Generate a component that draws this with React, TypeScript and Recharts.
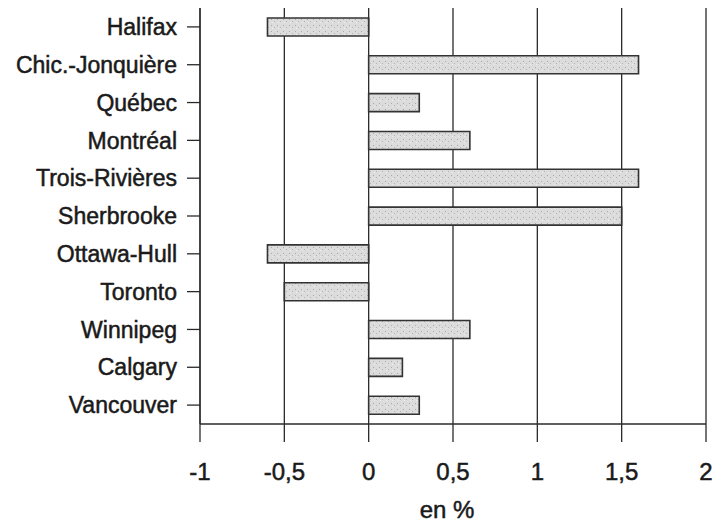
import { BarChart, Bar, XAxis, YAxis, CartesianGrid } from 'recharts';

const cities = [
  'Halifax',
  'Chic.-Jonquière',
  'Québec',
  'Montréal',
  'Trois-Rivières',
  'Sherbrooke',
  'Ottawa-Hull',
  'Toronto',
  'Winnipeg',
  'Calgary',
  'Vancouver',
];

const changes = [-0.6, 1.6, 0.3, 0.6, 1.6, 1.5, -0.6, -0.5, 0.6, 0.2, 0.3];

const xTicks = [-1, -0.5, 0, 0.5, 1, 1.5, 2];

const data = cities.map((city, i) => ({ city, value: changes[i] }));

const FONT = '"Liberation Sans", Arial, sans-serif';
const INK = '#2a2a2a';
const TEXT = '#1a1a1a';

export default function App() {
  return (
    <div style={{ position: 'absolute', left: 0, top: 0, background: '#fff' }}>
      <BarChart
        width={713}
        height={522}
        data={data}
        layout="vertical"
        margin={{ top: 8, right: 7, bottom: 0, left: 0 }}
        barCategoryGap={0}
      >
        <defs>
          <pattern id="speckle" width="6" height="6" patternUnits="userSpaceOnUse">
            <rect width="6" height="6" fill="#dcdcdc" />
            <rect x="1" y="1" width="1" height="1" fill="#a8a8a8" />
            <rect x="4" y="3" width="1" height="1" fill="#b4b4b4" />
            <rect x="2" y="4" width="1" height="1" fill="#efefef" />
          </pattern>
        </defs>
        <CartesianGrid horizontal={false} stroke={INK} strokeWidth={1.3} />
        <XAxis
          type="number"
          domain={[-1, 2]}
          ticks={xTicks}
          height={98}
          tickSize={18}
          tickMargin={21}
          stroke={INK}
          strokeWidth={1.3}
          tickFormatter={(v: number) => String(v).replace('.', ',')}
          tick={{ fill: TEXT, stroke: TEXT, strokeWidth: 0.5, fontSize: 24, fontFamily: FONT }}
          label={{
            value: 'en %',
            position: 'insideBottom',
            offset: 4,
            dx: -6,
            fill: TEXT,
            stroke: TEXT,
            strokeWidth: 0.5,
            fontSize: 24,
            fontFamily: FONT,
          }}
        />
        <YAxis
          type="category"
          dataKey="city"
          width={200}
          tickSize={13}
          tickMargin={10}
          interval={0}
          stroke={INK}
          strokeWidth={1.3}
          tick={{ fill: TEXT, stroke: TEXT, strokeWidth: 0.5, fontSize: 23, fontFamily: FONT }}
        />
        <Bar
          dataKey="value"
          barSize={18}
          fill="url(#speckle)"
          stroke="#333"
          strokeWidth={1.6}
          isAnimationActive={false}
        />
      </BarChart>
    </div>
  );
}
